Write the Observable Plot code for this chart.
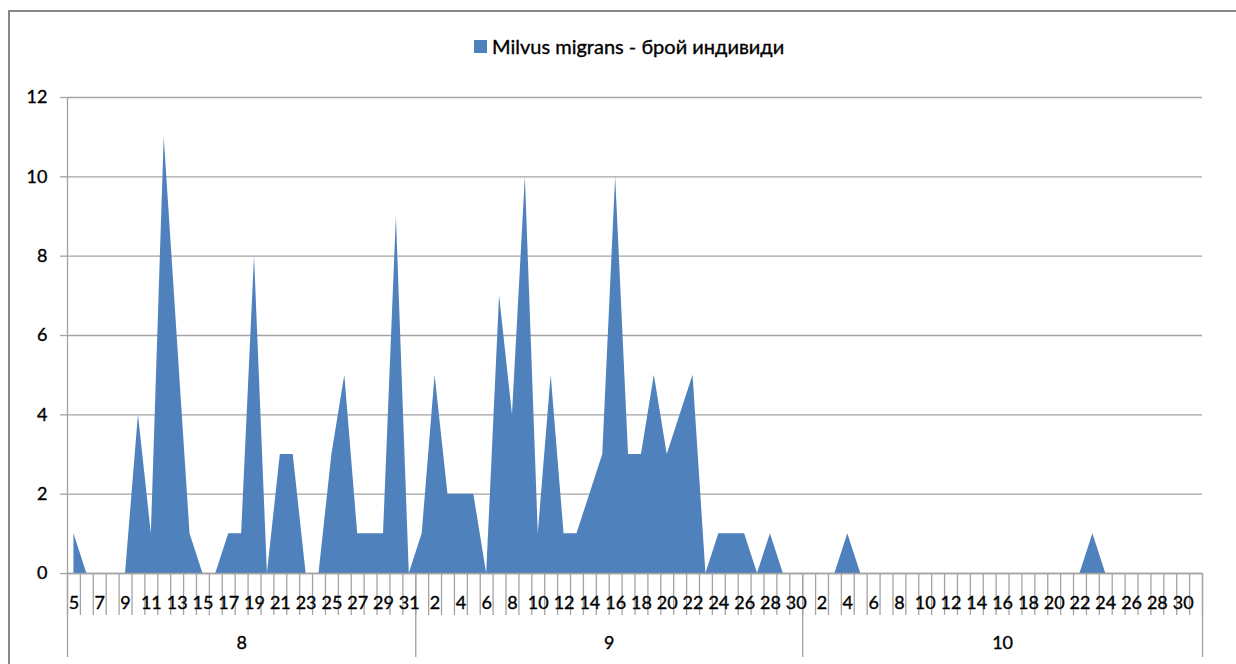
<!DOCTYPE html>
<html>
<head>
<meta charset="utf-8">
<script src="https://cdn.jsdelivr.net/npm/d3@7"></script>
<script src="https://cdn.jsdelivr.net/npm/@observablehq/plot@0.6"></script>
<style>
  html, body { margin: 0; padding: 0; background: #fff; overflow: hidden; width: 1236px; height: 664px; }
  #frame { position: absolute; left: 8px; top: 10px; width: 1260px; height: 700px; border: 2px solid #878787; box-sizing: border-box; pointer-events: none; }
  #legend { position: relative; height: 80px; font-family: Lato, "Open Sans", sans-serif; font-size: 20px; color: #000; -webkit-text-stroke: 0.35px #000; }
  #legend .item { position: absolute; left: 474px; top: 34px; display: flex; align-items: center; gap: 5px; white-space: nowrap; }
  #legend .sw { width: 13px; height: 13px; background: #4F81BD; display: inline-block; }
  #chart { position: relative; }
  #chart svg text { stroke: #000; stroke-width: 0.35px; }
</style>
</head>
<body>
<div id="frame"></div>
<div id="legend"><div class="item"><span class="sw"></span><span id="ltext"></span></div></div>
<div id="chart"></div>
<script>
// ---- data ----
const seriesName = "Milvus migrans - брой индивиди";
const months = ["8", "9", "10"];
const firstDays = [5, 1, 1];
const augCounts = [1,0,0,0,0,4,1,11,6,1,0,0,1,1,8,0,3,3,0,0,3,5,1,1,1,9,0];
const sepCounts = [1,5,2,2,2,0,7,4,10,1,5,1,1,2,3,10,3,3,5,3,4,5,0,1,1,1,0,1,0,0];
const octCounts = [0,0,0,1,0,0,0,0,0,0,0,0,0,0,0,0,0,0,0,0,0,0,1,0,0,0,0,0,0,0,0];
const yTicks = [0, 2, 4, 6, 8, 10, 12];

document.getElementById("ltext").textContent = seriesName;

// ---- build table ----
const monthCounts = [augCounts, sepCounts, octCounts];
const data = [];
const monthInfo = [];
monthCounts.forEach((arr, m) => {
  const start = data.length;
  arr.forEach((c, j) => data.push({i: data.length, month: months[m], day: firstDays[m] + j, count: c}));
  monthInfo.push({month: months[m], start: start - 0.5, end: data.length - 0.5, center: (start - 0.5 + data.length - 0.5) / 2});
});
const n = data.length;
const boundaries = d3.range(n + 1).map(k => k - 0.5);
const monthBounds = [-0.5, ...monthInfo.map(d => d.end)];
const labeled = data.filter(d => d.i % 2 === 0);

const gray = "#a3a3a3";
const fs = 18;

const chart = Plot.plot({
  width: 1236,
  height: 584,
  marginLeft: 67,
  marginRight: 34,
  marginTop: 17,
  marginBottom: 91,
  style: {fontFamily: "Lato, 'Open Sans', sans-serif", fontSize: fs + "px", color: "#000", background: "transparent", overflow: "visible"},
  x: {type: "linear", domain: [-0.5, n - 0.5], axis: null},
  y: {domain: [0, 12], axis: null},
  marks: [
    Plot.ruleY(yTicks, {y: d => d, x1: -0.5, x2: n - 0.5, stroke: gray, strokeWidth: 1.3}),
    Plot.axisY({ticks: yTicks, label: null, tickSize: 7, tickPadding: 13, stroke: gray, strokeWidth: 1.3, strokeOpacity: 1, tickFormat: d => d, fontSize: fs}),
    Plot.areaY(data, {x: "i", y: "count", fill: "#4F81BD", curve: "linear"}),
    Plot.ruleX([-0.5], {y1: 0, y2: 12, stroke: gray, strokeWidth: 1.3}),
    Plot.ruleY([0], {x1: -0.5, x2: n - 0.5, stroke: gray, strokeWidth: 1.3}),
    Plot.axisX({ticks: boundaries, label: null, tickSize: 42, tickFormat: () => "", stroke: gray, strokeWidth: 1.3, strokeOpacity: 1}),
    Plot.axisX({ticks: monthBounds, label: null, tickSize: 84, tickFormat: () => "", stroke: gray, strokeWidth: 1.3, strokeOpacity: 1}),
    Plot.text(labeled, {x: "i", y: () => 0, text: d => String(d.day), dy: 30, fill: "#000", fontSize: fs}),
    Plot.text(monthInfo, {x: "center", y: () => 0, text: "month", dy: 70, fill: "#000", fontSize: fs})
  ]
});
document.getElementById("chart").appendChild(chart);
</script>
</body>
</html>
